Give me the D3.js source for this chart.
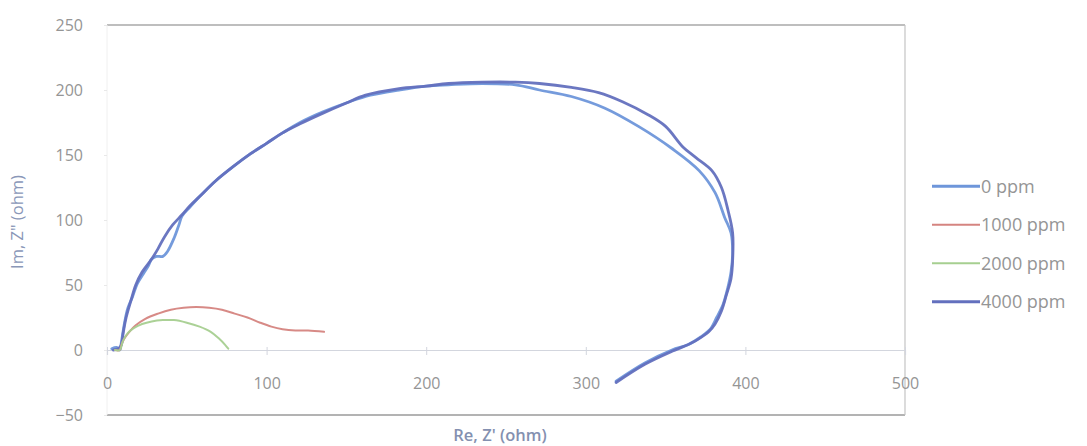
<!DOCTYPE html>
<html>
<head>
<meta charset="utf-8">
<script src="https://cdn.jsdelivr.net/npm/d3@7"></script>
<style>
  html, body { margin: 0; padding: 0; background: #ffffff; }
  svg text { font-family: "Open Sans", "Noto Sans", sans-serif; }
</style>
</head>
<body>
<svg id="chart" width="1087" height="446"></svg>
<script>
// ---- data (Re Z', Im Z'' in ohm) ----
const seriesNames = ["0 ppm", "1000 ppm", "2000 ppm", "4000 ppm"];
const xTicks = [0, 100, 200, 300, 400, 500];
const yTicks = [-50, 0, 50, 100, 150, 200, 250];

const ppm0 = [[3,1],[6,2],[8,0],[9,6],[11,21],[13,32],[16,41],[19,51],[23,59],[26,65],[28,70],[31,72],[35,72],[38,76],[42,86],[45,96],[47,103],[52,110],[58,118],[68,130],[79,141],[90,151],[100,159],[110,167],[121,175],[135,183],[152,191],[165,196],[183,200],[200,203],[214,204],[235,205],[256,204],[271,200],[291,195],[312,186],[333,172],[354,155],[371,138],[381,121],[387,102],[391,90],[392,75],[391,60],[389,48],[386,35],[382,25],[378,16],[372,10],[364,4],[354,0],[337,-10],[319,-24]];
const ppm1000 = [[5,0],[8,0],[9,4],[11,9],[14,14],[18,19],[24,24],[32,28],[40,31],[48,32.5],[56,33],[64,32.5],[72,31],[80,28],[88,25],[96,21],[103,18],[110,16],[118,15],[126,15],[136,14]];
const ppm2000 = [[5,0],[8,0],[10,7],[13,13],[17,17],[22,20],[28,22],[35,23],[42,23],[50,21],[58,18],[65,14],[70,9],[74,4],[76,1]];
const ppm4000 = [[4,0],[7,1],[9,4],[10,12],[12,25],[15,38],[18,50],[22,60],[28,70],[32,78],[36,87],[41,96],[47,104],[52,111],[58,118],[68,130],[79,141],[90,151],[100,159],[110,167],[121,174],[135,182],[150,190],[162,196],[183,201],[200,203],[214,205],[235,206],[256,206],[271,205],[291,202],[308,198],[323,191],[339,181],[350,172],[361,156],[369,148],[379,138],[385,125],[389,108],[392,90],[392,69],[391,55],[388,42],[385,30],[381,20],[377,14],[370,8],[362,3],[354,-1],[337,-11],[319,-25]];

const seriesData = [ppm0, ppm1000, ppm2000, ppm4000];
const seriesColors = ["#6e96da", "#d58480", "#a6cf90", "#6370be"];
const seriesWidths = [2.8, 2, 2, 2.8];

// ---- layout ----
const svg = d3.select("#chart");
const plotL = 107, plotR = 905, plotT = 25, plotB = 415;

const x = d3.scaleLinear().domain([0, 500]).range([plotL, plotR]);
const y = d3.scaleLinear().domain([-50, 250]).range([plotB, plotT]);

// plot frame
svg.append("line").attr("x1", plotL).attr("x2", plotR).attr("y1", plotT).attr("y2", plotT)
  .attr("stroke", "#a9a9a9").attr("stroke-width", 1.3);
svg.append("line").attr("x1", plotL).attr("x2", plotR).attr("y1", plotB).attr("y2", plotB)
  .attr("stroke", "#9a9a9a").attr("stroke-width", 1.5);
svg.append("line").attr("x1", plotR).attr("x2", plotR).attr("y1", plotT).attr("y2", plotB)
  .attr("stroke", "#c4c4c4").attr("stroke-width", 1.2);
svg.append("line").attr("x1", plotL).attr("x2", plotL).attr("y1", plotT).attr("y2", plotB)
  .attr("stroke", "#f0f0f0").attr("stroke-width", 1);

// y axis
const yAxis = svg.append("g").attr("transform", `translate(${plotL},0)`)
  .call(d3.axisLeft(y).tickValues(yTicks).tickSize(3).tickPadding(21).tickFormat(d3.format("d")));
yAxis.select(".domain").remove();
yAxis.selectAll(".tick line").attr("stroke", "#e8e8e8");
yAxis.selectAll(".tick text").attr("fill", "#959595").style("font-size", "16px");

// x axis at y = 0
const xAxis = svg.append("g").attr("transform", `translate(0,${y(0)})`)
  .call(d3.axisBottom(x).tickValues(xTicks).tickSize(5).tickFormat(d3.format("d")));
xAxis.select(".domain").attr("stroke", "#d3d6de").attr("stroke-width", 1.2);
xAxis.selectAll(".tick line").attr("stroke", "#d3d6de").attr("y1", -3);
xAxis.selectAll(".tick text").attr("fill", "#959595").style("font-size", "16px")
  .attr("y", 39).attr("dy", 0);

// axis titles
svg.append("text").attr("transform", `translate(23,${(plotT + plotB) / 2 + 2}) rotate(-90)`)
  .attr("text-anchor", "middle").attr("fill", "#8a97b8").style("font-size", "16.5px")
  .text("Im, Z\" (ohm)");
svg.append("text").attr("x", 500).attr("y", 441)
  .attr("text-anchor", "middle").attr("fill", "#8490b0").style("font-size", "16.5px")
  .style("font-weight", "600")
  .text("Re, Z' (ohm)");

// series lines
const line = d3.line().x(d => x(d[0])).y(d => y(d[1])).curve(d3.curveCatmullRom.alpha(0.5));
const drawOrder = [0, 3, 1, 2];
drawOrder.forEach(i => {
  svg.append("path").datum(seriesData[i])
    .attr("fill", "none").attr("stroke", seriesColors[i])
    .attr("stroke-width", seriesWidths[i]).attr("stroke-linejoin", "round")
    .attr("stroke-linecap", "round").attr("opacity", 0.95)
    .attr("d", line);
});

// legend
const legY = d3.scaleBand().domain(seriesNames).range([167, 321]);
const leg = svg.append("g");
seriesNames.forEach((name, i) => {
  const cy = legY(name) + legY.bandwidth() / 2;
  leg.append("line").attr("x1", 932).attr("x2", 980).attr("y1", cy).attr("y2", cy)
    .attr("stroke", seriesColors[i]).attr("stroke-width", seriesWidths[i]);
  leg.append("text").attr("x", 981).attr("y", cy).attr("dy", "0.35em")
    .attr("fill", "#959595").style("font-size", "18px").text(name);
});
</script>
</body>
</html>
